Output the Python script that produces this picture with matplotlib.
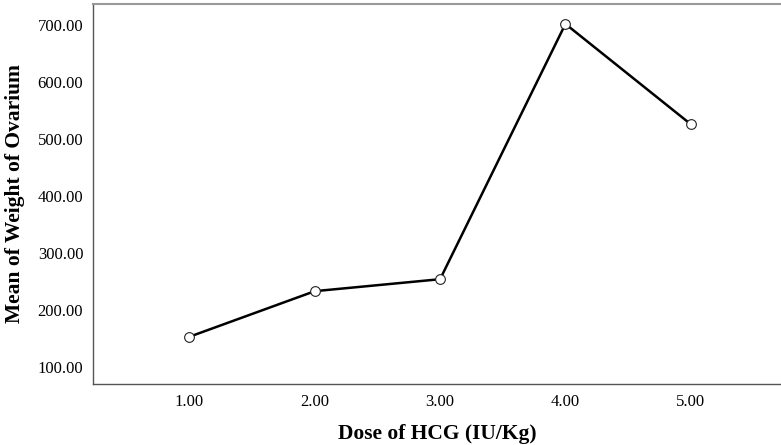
import matplotlib
matplotlib.use("Agg")
from matplotlib import pyplot as plt

dose = [1.0, 2.0, 3.0, 4.0, 5.0]
mean_weight = [153, 233, 254, 702, 526]
y_ticks = [100, 200, 300, 400, 500, 600, 700]

plt.rcParams['font.family'] = ['Liberation Serif', 'DejaVu Serif']

fig = plt.figure(figsize=(7.81, 4.45), dpi=100)
ax = fig.add_axes([0.119, 0.137, 0.881, 0.854])

ax.plot(dose, mean_weight, '-o', color='black', lw=1.8,
        markersize=7, markerfacecolor='white', markeredgecolor='#222222',
        markeredgewidth=0.8)

ax.set_xlim(0.23, 5.72)
ax.set_ylim(70, 737)
ax.set_xticks(dose)
ax.set_xticklabels(["%.2f" % d for d in dose])
ax.set_yticks(y_ticks)
ax.set_yticklabels(["%.2f" % v for v in y_ticks])
ax.tick_params(length=0, labelsize=12, pad=7)

for s in ax.spines.values():
    s.set_color('#555555')
    s.set_linewidth(1.0)
ax.spines['top'].set_color('#999999')
ax.spines['top'].set_linewidth(1.5)
ax.spines['right'].set_visible(False)

ax.set_xlabel("Dose of HCG (IU/Kg)", fontsize=15.5, fontweight='bold', labelpad=10)
ax.set_ylabel("Mean of Weight of Ovarium", fontsize=15.5, fontweight='bold', labelpad=9)

plt.savefig("out.png")
